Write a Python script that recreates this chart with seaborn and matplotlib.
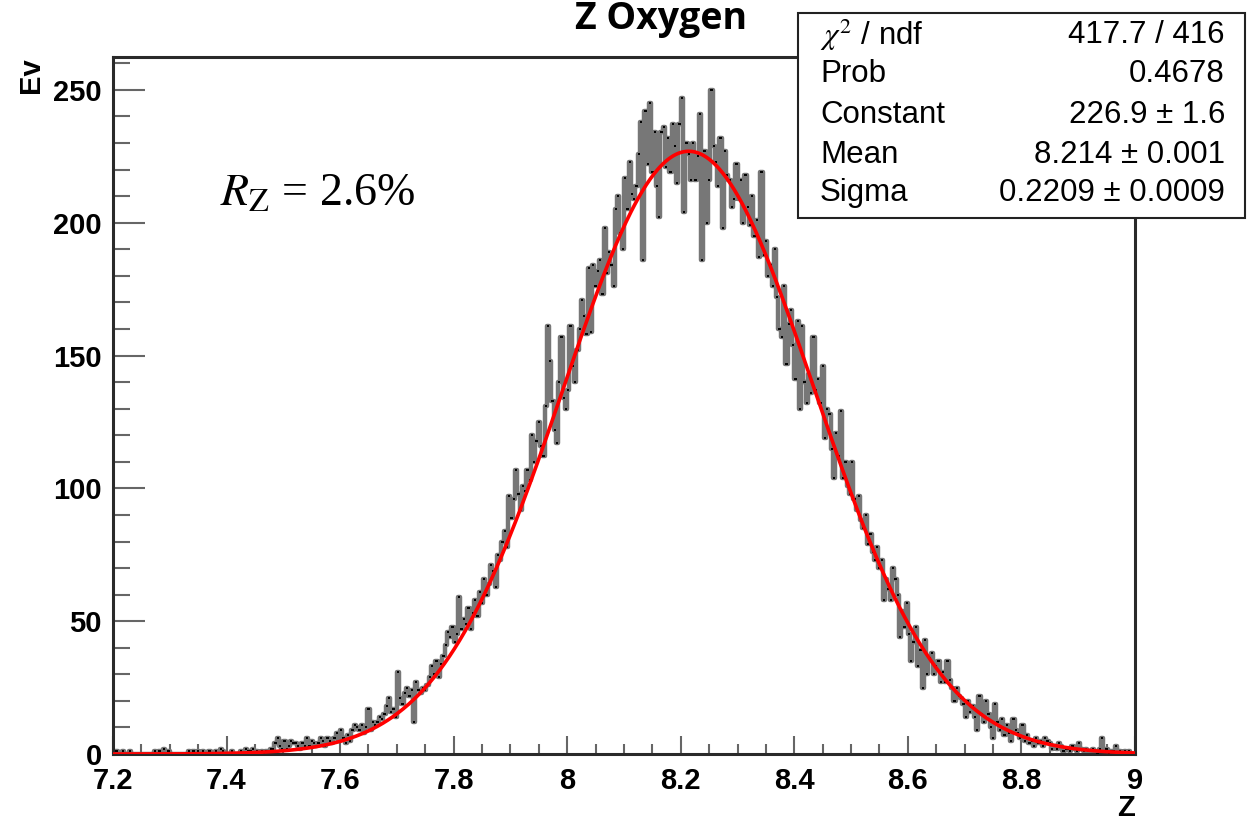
import numpy as np
import pandas as pd
import matplotlib
matplotlib.use("Agg")
import matplotlib.pyplot as plt
from matplotlib.patches import Rectangle
from matplotlib.ticker import FixedLocator, MultipleLocator
import seaborn as sns

# Z of oxygen candidates: 450 bins of width 0.004 between 7.2 and 9.0
z_lo, z_hi, n_bins = 7.2, 9.0, 450
counts = [
    0, 1, 0, 0, 1,  0, 0, 1, 0, 0,  0, 0, 0, 0, 0,  0, 0, 0, 1, 0,      # 7.20
    1, 0, 2, 0, 1,  0, 0, 0, 0, 0,  0, 0, 0, 1, 0,  1, 0, 1, 0, 1,      # 7.28
    0, 0, 1, 0, 0,  1, 0, 2, 1, 0,  0, 0, 1, 0, 0,  0, 1, 0, 2, 1,      # 7.36
    1, 2, 0, 1, 0,  1, 0, 1, 1, 2,  2, 4, 6, 3, 2,  5, 2, 3, 5, 4,      # 7.44
    4, 3, 2, 4, 3,  6, 3, 5, 4, 3,  4, 6, 5, 3, 6,  5, 4, 6, 8, 5,      # 7.52
    9, 6, 4, 7, 5,  9, 11, 10, 9, 11,  8, 10, 17, 9, 12,  11, 12, 14, 13, 15,   # 7.60
    18, 21, 16, 17, 14,  31, 21, 19, 23, 25,  22, 24, 12, 27, 24,  23, 25, 24, 26, 29,  # 7.68
    33, 30, 35, 29, 34,  37, 41, 46, 44, 48,  42, 45, 59, 47, 51,  49, 55, 47, 53, 58,  # 7.76
    52, 61, 57, 66, 60,  64, 71, 69, 63, 75,  73, 80, 84, 78, 97,  89, 96, 107, 98, 92,  # 7.84
    101, 99, 107, 103, 120,  110, 118, 125, 116, 112,  131, 161, 148, 133, 122,  117, 140, 157, 134, 130,  # 7.92
    137, 161, 146, 140, 152,  160, 171, 165, 158, 183,  159, 184, 176, 182, 186,  173, 198, 181, 189, 184,  # 8.00
    176, 205, 210, 196, 190,  217, 205, 223, 211, 209,  214, 226, 238, 186, 242,  222, 245, 219, 234, 214,  # 8.08
    202, 234, 236, 221, 232,  219, 237, 229, 215, 237,  247, 204, 230, 226, 216,  230, 216, 225, 241, 186,  # 8.16
    227, 200, 216, 250, 229,  223, 214, 232, 198, 227,  218, 216, 206, 209, 222,  209, 216, 200, 218, 206,  # 8.24
    199, 210, 195, 201, 187,  219, 188, 193, 180, 184,  176, 190, 172, 160, 157,  176, 147, 162, 167, 154,  # 8.32
    141, 163, 130, 161, 140,  132, 143, 136, 157, 137,  141, 132, 146, 119, 130,  128, 115, 104, 121, 112,  # 8.40
    129, 104, 110, 101, 98,  110, 96, 92, 97, 88,  85, 90, 79, 83, 76,  73, 78, 70, 73, 58,  # 8.48
    66, 62, 58, 70, 66,  60, 44, 54, 48, 57,  45, 35, 42, 48, 33,  39, 25, 43, 30, 36,  # 8.56
    38, 30, 33, 35, 27,  31, 27, 35, 28, 25,  20, 25, 22, 21, 19,  14, 20, 16, 18, 14,  # 8.64
    9, 22, 15, 12, 20,  15, 10, 6, 19, 12,  9, 13, 7, 11, 8,  5, 13, 9, 8, 6,  # 8.72
    11, 5, 7, 4, 5,  3, 6, 4, 5, 3,  6, 5, 4, 2, 3,  2, 4, 3, 1, 2,  # 8.80
    2, 1, 3, 2, 1,  4, 2, 1, 2, 1,  1, 2, 1, 0, 2,  6, 1, 2, 0, 1,  # 8.88
    1, 3, 0, 1, 0,  1, 0, 1, 0, 0,  # 8.96
]
assert len(counts) == n_bins

# Gaussian fit results
fit_constant, fit_mean, fit_sigma = 226.9, 8.214, 0.2209
stats_labels = [r"$\chi^2$ / ndf", "Prob", "Constant", "Mean", "Sigma"]
stats_values = ["417.7 / 416", "0.4678", "226.9 \u00b1 1.6", "8.214 \u00b1 0.001", "0.2209 \u00b1 0.0009"]
x_ticks = [7.2, 7.4, 7.6, 7.8, 8.0, 8.2, 8.4, 8.6, 8.8, 9.0]
y_ticks = [0, 50, 100, 150, 200, 250]

sns.set_style("ticks")
plt.rcParams["font.family"] = ["Liberation Sans", "DejaVu Sans"]
plt.rcParams["mathtext.fontset"] = "stix"
plt.rcParams["text.color"] = "black"
plt.rcParams["xtick.labelcolor"] = "black"
plt.rcParams["ytick.labelcolor"] = "black"

edges = np.linspace(z_lo, z_hi, n_bins + 1)
hist = pd.DataFrame({"z": 0.5 * (edges[:-1] + edges[1:]), "n": np.asarray(counts, dtype=float)})

fig = plt.figure(figsize=(12.54, 8.22), dpi=100)
ax = fig.add_axes([0.0901, 0.0827, 0.815, 0.848])

sns.histplot(data=hist, x="z", weights="n", bins=n_bins, binrange=(z_lo, z_hi),
             element="step", fill=False, color="#777777", linewidth=3.2, ax=ax)
ax.hlines(hist["n"], edges[:-1], edges[1:], colors="black", linewidth=1.4, zorder=3)

fit = pd.DataFrame({"z": np.linspace(z_lo, z_hi, 800)})
fit["g"] = fit_constant * np.exp(-0.5 * ((fit["z"] - fit_mean) / fit_sigma) ** 2)
sns.lineplot(data=fit, x="z", y="g", color="red", linewidth=2.6, ax=ax, zorder=4)

ax.set_xlim(z_lo, z_hi)
ax.set_ylim(0, 262.4)
ax.xaxis.set_major_locator(FixedLocator(x_ticks))
ax.set_xticklabels([f"{t:g}" for t in x_ticks])
ax.xaxis.set_minor_locator(MultipleLocator(0.05))
ax.yaxis.set_major_locator(FixedLocator(y_ticks))
ax.set_yticklabels([str(t) for t in y_ticks])
ax.yaxis.set_minor_locator(MultipleLocator(10))

for lab in ax.get_xticklabels() + ax.get_yticklabels():
    lab.set_fontweight("bold")
    lab.set_fontsize(21)
    lab.set_color("black")
ax.tick_params(axis="x", which="major", direction="in", length=13, width=1.5, color="#666666", pad=9)
ax.tick_params(axis="x", which="minor", direction="in", length=7, width=1.5, color="#666666")
ax.tick_params(axis="y", which="major", direction="in", length=23, width=1.5, color="#666666", pad=8)
ax.tick_params(axis="y", which="minor", direction="in", length=12, width=1.5, color="#666666")
for sp in ax.spines.values():
    sp.set_visible(True)
    sp.set_linewidth(2.2)
    sp.set_color("#2a2a2a")

ax.set_xlabel("")
ax.set_ylabel("")
fig.text(1135 / 1254, 1 - 808 / 822, "Z", ha="right", va="center", fontsize=21, fontweight="bold")
fig.text(31 / 1254, 1 - 57 / 822, "Ev", ha="center", va="top", rotation=90, fontsize=21, fontweight="bold")
fig.text(661 / 1254, 1 - 29 / 822, "Z Oxygen", ha="center", va="baseline", fontsize=27,
         fontweight="bold", family=["Open Sans", "DejaVu Sans"])

fig.text(220 / 1254, 1 - 205 / 822, r"$R_{\mathrm{Z}}$ = 2.6%", fontsize=33, va="baseline",
         family=["Liberation Serif", "DejaVu Serif"])

# stats box
fig.add_artist(Rectangle((798 / 1254, 1 - 218 / 822), (1245 - 798) / 1254, (218 - 13) / 822,
                         transform=fig.transFigure, facecolor="white", edgecolor="#222222",
                         linewidth=1.5, zorder=5))
row_y = [35, 74, 115, 155, 193]
for lab, val, y in zip(stats_labels, stats_values, row_y):
    fig.text(820 / 1254, 1 - y / 822, lab, ha="left", va="center", fontsize=22.5, zorder=6)
    fig.text(1225 / 1254, 1 - y / 822, val, ha="right", va="center", fontsize=22.5, zorder=6)

fig.savefig("out.png", dpi=100)
